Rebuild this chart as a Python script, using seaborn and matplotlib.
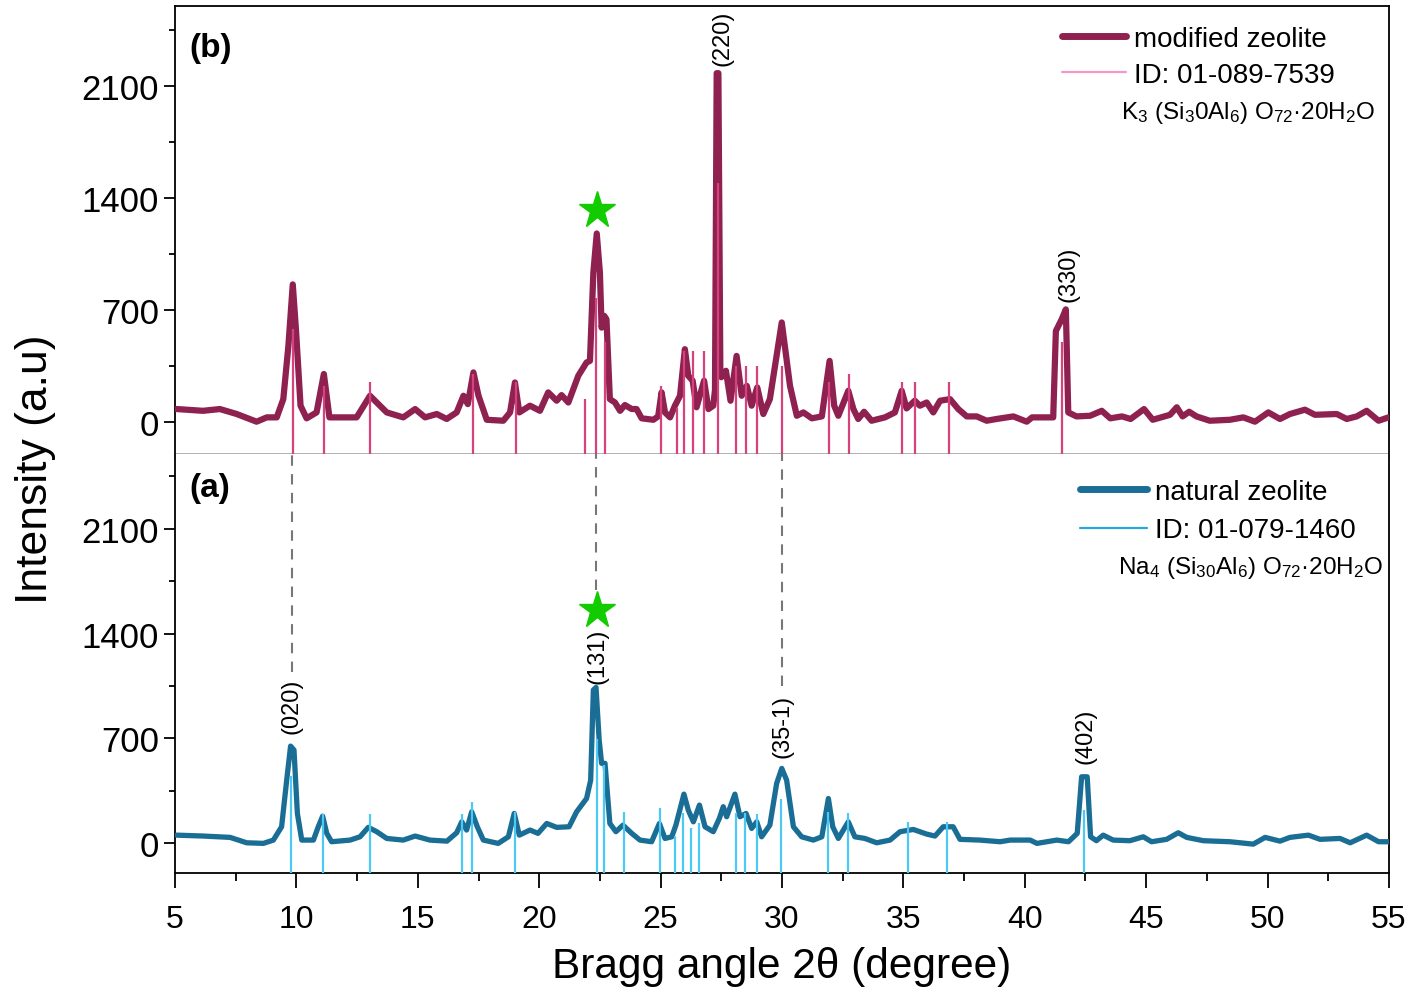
import matplotlib
matplotlib.use("Agg")
import matplotlib.pyplot as plt
from matplotlib.lines import Line2D
import seaborn as sns

# modified zeolite (b)
top_x = [5.07, 6.15, 6.85, 7.54, 8.36, 8.78, 9.19, 9.46, 9.67, 9.85, 9.98, 10.17, 10.42, 10.83,
         11.13, 11.36, 11.93, 12.48, 13.03, 13.31, 13.72, 14.40, 14.89, 15.30, 15.78, 16.19, 16.60,
         16.88, 17.06, 17.29, 17.50, 17.84, 18.52, 18.80, 19.00, 19.18, 19.62, 20.03, 20.37, 20.72,
         20.92, 21.20, 21.61, 21.95, 22.09, 22.23, 22.37, 22.50, 22.57, 22.68, 22.77, 22.91, 23.12,
         23.33, 23.53, 23.81, 24.01, 24.22, 24.70, 24.90, 25.04, 25.18, 25.39, 25.59, 25.80, 26.00,
         26.14, 26.32, 26.48, 26.79, 26.97, 27.17, 27.24, 27.31, 27.38, 27.46, 27.50, 27.69, 27.88,
         28.13, 28.34, 28.55, 28.75, 28.98, 29.23, 29.50, 29.99, 30.33, 30.61, 30.88, 31.23, 31.64,
         31.96, 32.15, 32.32, 32.73, 32.94, 33.14, 33.38, 33.69, 34.24, 34.65, 34.93, 35.13, 35.47,
         35.68, 35.96, 36.23, 36.51, 36.92, 37.26, 37.61, 38.02, 38.43, 38.84, 39.53, 40.08, 40.30,
         41.17, 41.28, 41.52, 41.69, 41.79, 42.13, 42.69, 43.17, 43.52, 44.00, 44.36, 44.91, 45.27,
         45.98, 46.26, 46.50, 46.77, 47.07, 47.62, 48.45, 49.00, 49.48, 50.03, 50.51, 50.92, 51.54,
         51.95, 52.85, 53.26, 53.67, 54.08, 54.57, 54.98]
top_y = [81, 70, 81, 50, 2, 29, 29, 143, 476, 860, 580, 102, 23, 60,
         300, 29, 29, 29, 164, 122, 60, 29, 81, 29, 50, 19, 60,
         164, 112, 310, 164, 14, 8, 60, 247, 60, 102, 70, 185, 133,
         168, 122, 289, 372, 382, 933, 1178, 933, 590, 663, 642, 143, 122,
         70, 106, 81, 81, 23, 14, 35, 185, 60, 29, 102, 164, 455,
         289, 258, 92, 258, 81, 102, 200, 2180, 2180, 320, 280, 320, 133,
         413, 164, 226, 102, 216, 50, 143, 622, 226, 39, 60, 23, 35,
         382, 102, 39, 195, 81, 19, 64, 8, 29, 60, 195, 85, 133,
         102, 122, 60, 133, 143, 81, 35, 35, 8, 19, 35, 2, 29,
         29, 569, 642, 704, 60, 35, 39, 70, 23, 35, 19, 81, 14,
         45, 92, 35, 64, 35, 8, 14, 29, 2, 60, 19, 50, 77,
         45, 50, 19, 35, 70, 8, 29]

# natural zeolite (a)
bot_x = [5.07, 6.17, 7.27, 7.95, 8.64, 9.05, 9.39, 9.60, 9.76, 9.90, 10.04, 10.22, 10.70, 10.90,
         11.08, 11.25, 11.45, 12.21, 12.62, 12.96, 13.31, 13.72, 14.40, 14.89, 15.50, 16.20, 16.60,
         16.81, 17.01, 17.22, 17.45, 17.70, 18.31, 18.73, 18.97, 19.18, 19.62, 19.95, 20.31, 20.72,
         21.23, 21.54, 21.95, 22.12, 22.23, 22.34, 22.47, 22.57, 22.71, 22.91, 23.16, 23.45, 23.81,
         24.15, 24.63, 24.95, 25.18, 25.46, 25.63, 25.96, 26.14, 26.35, 26.60, 26.83, 27.17, 27.42,
         27.58, 27.72, 28.06, 28.27, 28.52, 28.75, 28.96, 29.16, 29.50, 29.78, 29.99, 30.19, 30.47,
         30.81, 31.29, 31.64, 31.91, 32.09, 32.32, 32.73, 33.00, 33.41, 33.90, 34.45, 34.86, 35.41,
         35.96, 36.30, 36.64, 37.05, 37.33, 38.15, 38.98, 39.40, 40.22, 40.50, 41.32, 41.80, 42.16,
         42.34, 42.57, 42.71, 42.95, 43.23, 43.64, 44.33, 44.88, 45.22, 45.84, 46.32, 46.67, 47.35,
         48.45, 49.41, 49.90, 50.51, 50.92, 51.68, 52.16, 52.98, 53.40, 54.08, 54.57, 54.98]
bot_y = [53, 47, 38, 2, -2, 20, 109, 421, 648, 622, 198, 20, 20, 109,
         180, 65, 9, 20, 42, 105, 76, 31, 20, 47, 20, 13, 69,
         142, 87, 209, 109, 20, -2, 42, 198, 53, 87, 65, 131, 105,
         109, 209, 298, 421, 1023, 1040, 688, 533, 533, 131, 76, 120, 65,
         20, 9, 131, 31, 42, 120, 327, 220, 142, 254, 109, 76, 165,
         243, 176, 327, 176, 198, 98, 142, 42, 120, 399, 499, 421, 109,
         42, 20, 42, 298, 109, 31, 142, 42, 31, 2, 20, 76, 91,
         60, 47, 109, 109, 25, 20, 9, 20, 20, -2, 20, 9, 65,
         443, 443, 42, 16, 53, 20, 16, 42, 9, 25, 69, 38, 16,
         9, -7, 38, 13, 38, 53, 25, 31, 2, 53, 9, 9]

# reference patterns
ref_top_x = [9.87, 11.15, 13.02, 17.27, 19.04, 21.90, 22.34, 22.70, 25.02, 25.66, 25.98, 26.32,
             26.80, 27.35, 28.11, 28.52, 28.98, 29.99, 31.93, 32.75, 34.93, 35.48, 36.86, 41.54]
ref_top_h = [584, 222, 251, 299, 247, 143, 777, 497, 226, 85, 445, 445,
             445, 1494, 347, 347, 347, 347, 251, 299, 247, 247, 247, 497]
ref_bot_x = [9.79, 11.11, 13.03, 16.83, 17.23, 18.99, 22.37, 22.68, 23.48, 24.97, 25.59, 25.94,
             26.24, 26.57, 28.10, 28.47, 28.96, 29.94, 31.89, 32.71, 35.20, 36.81, 42.45]
ref_bot_h = [448, 194, 194, 194, 274, 209, 693, 521, 209, 232, 47, 198,
             98, 131, 198, 198, 194, 292, 209, 198, 142, 142, 220]

# hkl labels (x, y-bottom, text)
top_hkl = [(27.53, 2232, "(220)"), (41.78, 754, "(330)")]
bot_hkl = [(9.80, 735, "(020)"), (22.42, 1070, "(131)"), (30.0, 575, "(35-1)"), (42.5, 535, "(402)")]
dash_x = [9.8, 22.35, 30.0]
dash_end = [1140, 1690, 1050]
star_x = 22.36
star_top, star_bot = 1322, 1557

sns.set_theme(style="ticks")
plt.rcParams['font.family'] = ['Liberation Sans', 'DejaVu Sans']
plt.rcParams['mathtext.fontset'] = 'custom'
plt.rcParams['mathtext.rm'] = 'Liberation Sans'
plt.rcParams['mathtext.it'] = 'Liberation Sans:italic'
for k in ['text.color', 'axes.labelcolor', 'xtick.color', 'ytick.color', 'axes.edgecolor']:
    plt.rcParams[k] = 'black'

c_top, c_top_ref, c_top_leg = '#8f2150', '#d6417e', '#f29ac6'
c_bot, c_bot_ref, c_bot_leg = '#1a6e95', '#4cc9f5', '#2aa7dd'

fig = plt.figure(figsize=(14.08, 9.95), dpi=100)
ax_b = fig.add_axes([0.1243, 0.5427, 0.8622, 0.4503])
ax_a = fig.add_axes([0.1243, 0.1216, 0.8622, 0.4211])

for ax in (ax_b, ax_a):
    ax.set_xlim(5, 55)
    ax.set_ylim(-200, 2600)
    ax.set_yticks([0, 700, 1400, 2100])
    ax.set_yticks([350, 1050, 1750, 2450], minor=True)
    ax.set_xticks(range(5, 56, 5))
    ax.set_xticks([x + 2.5 for x in range(5, 55, 5)], minor=True)
    ax.tick_params(axis='y', which='major', labelsize=25, length=8, width=1.3, direction='out')
    ax.tick_params(axis='y', which='minor', length=4, width=1.3, direction='out')
    for s in ax.spines.values():
        s.set_linewidth(1.3)
        s.set_color('black')
    ax.set_xlabel('')
    ax.set_ylabel('')

# (b) modified zeolite
sns.lineplot(x=top_x, y=top_y, ax=ax_b, color=c_top, lw=4.5, zorder=3,
             solid_joinstyle='round', solid_capstyle='round')
ax_b.vlines(ref_top_x, -200, ref_top_h, color=c_top_ref, lw=1.6, zorder=4)
ax_b.plot(star_x, star_top, marker='*', ms=28, color='#12cc00', zorder=5)
for x, y, t in top_hkl:
    ax_b.text(x, y, t, rotation=90, ha='center', va='bottom', fontsize=17)
ax_b.spines['bottom'].set_color('#aaaaaa')
ax_b.tick_params(axis='x', which='both', labelbottom=False, direction='out',
                 color='#aaaaaa', length=4, width=1.2)
ax_b.text(0.012, 0.908, '(b)', transform=ax_b.transAxes, fontsize=24, fontweight='bold', va='center')
h_b = [Line2D([], [], color=c_top, lw=5), Line2D([], [], color=c_top_leg, lw=1.6)]
ax_b.legend(h_b, ['modified zeolite', 'ID: 01-089-7539'], loc='upper left',
            bbox_to_anchor=(0.7306, 0.955), frameon=False, fontsize=20, handlelength=2.3,
            handletextpad=0.3, labelspacing=0.35, borderpad=0, borderaxespad=0)
ax_b.text(0.9885, 0.763, r'K$_3$ (Si$_3$0Al$_6$) O$_{72}$·20H$_2$O', transform=ax_b.transAxes,
          ha='right', va='center', fontsize=17.5)

# (a) natural zeolite
sns.lineplot(x=bot_x, y=bot_y, ax=ax_a, color=c_bot, lw=3.8, zorder=3,
             solid_joinstyle='round', solid_capstyle='round')
ax_a.vlines(ref_bot_x, -200, ref_bot_h, color=c_bot_ref, lw=1.6, zorder=4)
ax_a.vlines(dash_x, dash_end, 2600, color='#777777', lw=1.5, linestyles=(0, (5, 4)), zorder=2)
ax_a.plot(star_x, star_bot, marker='*', ms=28, color='#12cc00', zorder=5)
for x, y, t in bot_hkl:
    ax_a.text(x, y, t, rotation=90, ha='center', va='bottom', fontsize=17)
ax_a.spines['top'].set_visible(False)
ax_a.tick_params(axis='x', which='major', labelsize=23, length=11, width=1.3, direction='out', pad=11)
ax_a.tick_params(axis='x', which='minor', length=5.5, width=1.3, direction='out')
ax_a.text(0.012, 0.921, '(a)', transform=ax_a.transAxes, fontsize=24, fontweight='bold', va='center')
h_a = [Line2D([], [], color=c_bot, lw=5), Line2D([], [], color=c_bot_leg, lw=1.6)]
ax_a.legend(h_a, ['natural zeolite', 'ID: 01-079-1460'], loc='upper left',
            bbox_to_anchor=(0.7455, 0.941), frameon=False, fontsize=20, handlelength=2.4,
            handletextpad=0.3, labelspacing=0.45, borderpad=0, borderaxespad=0)
ax_a.text(0.995, 0.730, r'Na$_4$ (Si$_{30}$Al$_6$) O$_{72}$·20H$_2$O', transform=ax_a.transAxes,
          ha='right', va='center', fontsize=17.5)

fig.text(0.025, 0.528, 'Intensity (a.u)', rotation=90, ha='center', va='center', fontsize=32)
fig.text(0.555, 0.028, 'Bragg angle 2θ (degree)', ha='center', va='center', fontsize=30.5)

fig.savefig('out.png', dpi=100)
